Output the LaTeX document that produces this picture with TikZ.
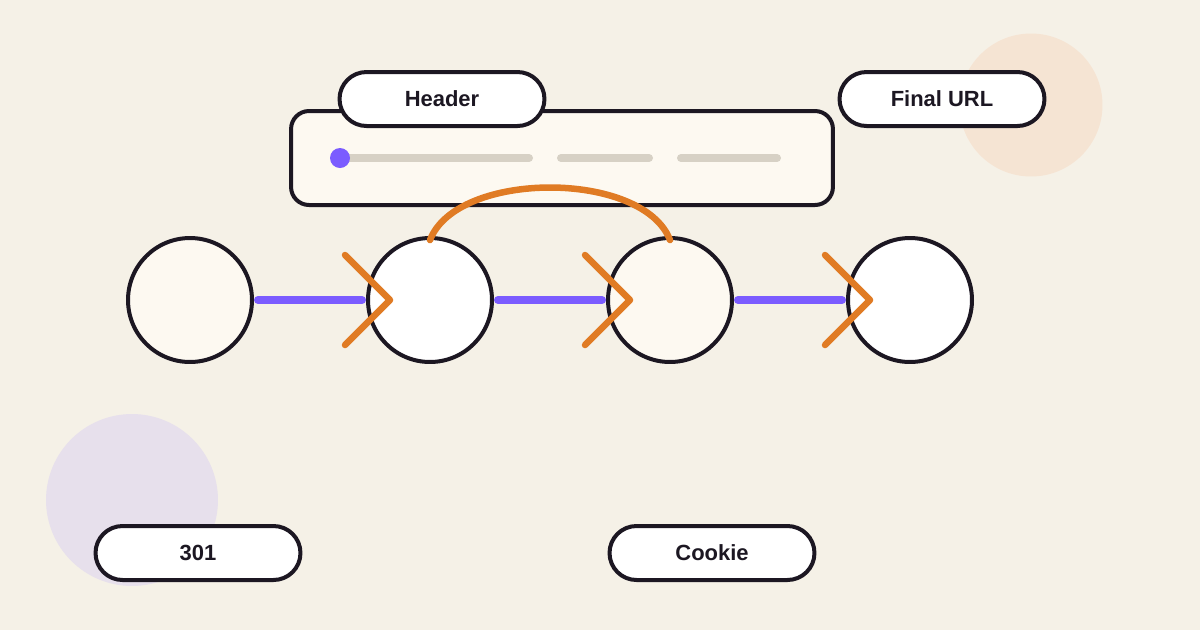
\documentclass[tikz,border=0pt]{standalone}
\usepackage{fontspec}
\setmainfont{Liberation Sans}
\definecolor{paper}{HTML}{F5F1E7}
\definecolor{cream}{HTML}{FDF9F1}
\definecolor{ink}{HTML}{1C1722}
\definecolor{peach}{HTML}{F5E4D3}
\definecolor{lilac}{HTML}{E7E0EC}
\definecolor{violet}{HTML}{7B5CFF}
\definecolor{amber}{HTML}{E07B24}
\definecolor{track}{HTML}{D7D1C5}
\begin{document}
\begin{tikzpicture}[x=0.02cm,y=-0.02cm,
    hop/.style={circle, draw=ink, line width=0.08cm, minimum size=2.48cm, inner sep=0pt},
    tag/.style={draw=ink, fill=white, line width=0.08cm, rounded corners=0.54cm,
        minimum width=4.1cm, minimum height=1.08cm, inner sep=0pt,
        font=\fontsize{12.5}{15}\selectfont\bfseries, text=ink},
    link/.style={draw=violet, line width=0.16cm, line cap=round, shorten <=0.08cm, shorten >=0.08cm},
    chevron/.style={draw=amber, line width=0.13cm, line cap=round, line join=round},
    bar/.style={draw=track, line width=0.16cm, line cap=round}]
        % Background and blobs
        \useasboundingbox (0,0) rectangle (1200,630);
        \fill[paper] (0,0) rectangle (1200,630);
        \fill[peach] (1031,105) circle (1.43cm);
        \fill[lilac] (132,500) circle (1.72cm);

        % Header panel
        \node[draw=ink, fill=cream, line width=0.08cm, rounded corners=0.36cm,
            minimum width=10.84cm, minimum height=1.88cm] (panel) at (562,158) {};
        \draw[bar] (340,158) -- (529,158);
        \draw[bar] (561,158) -- (649,158);
        \draw[bar] (681,158) -- (777,158);
        \fill[violet] (340,158) circle (0.2cm);
        \node[tag] (header) at (442,99) {Header};
        \node[tag] (final) at (942,99) {Final URL};

        % Redirect hops
        \node[hop, fill=cream] (c1) at (190,300) {};
        \node[hop, fill=white] (c2) at (430,300) {};
        \node[hop, fill=cream] (c3) at (670,300) {};
        \node[hop, fill=white] (c4) at (910,300) {};

        % Links between hops
        \draw[link] (c1.east) -- (c2.west);
        \draw[link] (c2.east) -- (c3.west);
        \draw[link] (c3.east) -- (c4.west);

        % Arrow heads
        \foreach \n in {2,3,4}
            \draw[chevron] ([shift={(-21,-45)}]c\n.west) -- ([shift={(24,0)}]c\n.west)
                -- ([shift={(-21,45)}]c\n.west);

        % Skip arc
        \draw[chevron] ([yshift=-0.08cm]c2.north) .. controls +(27,-70) and +(-27,-70) .. ([yshift=-0.08cm]c3.north);

        % Bottom tags
        \node[tag] (code) at (198,553) {301};
        \node[tag] (cookie) at (712,553) {Cookie};
\end{tikzpicture}
\end{document}
